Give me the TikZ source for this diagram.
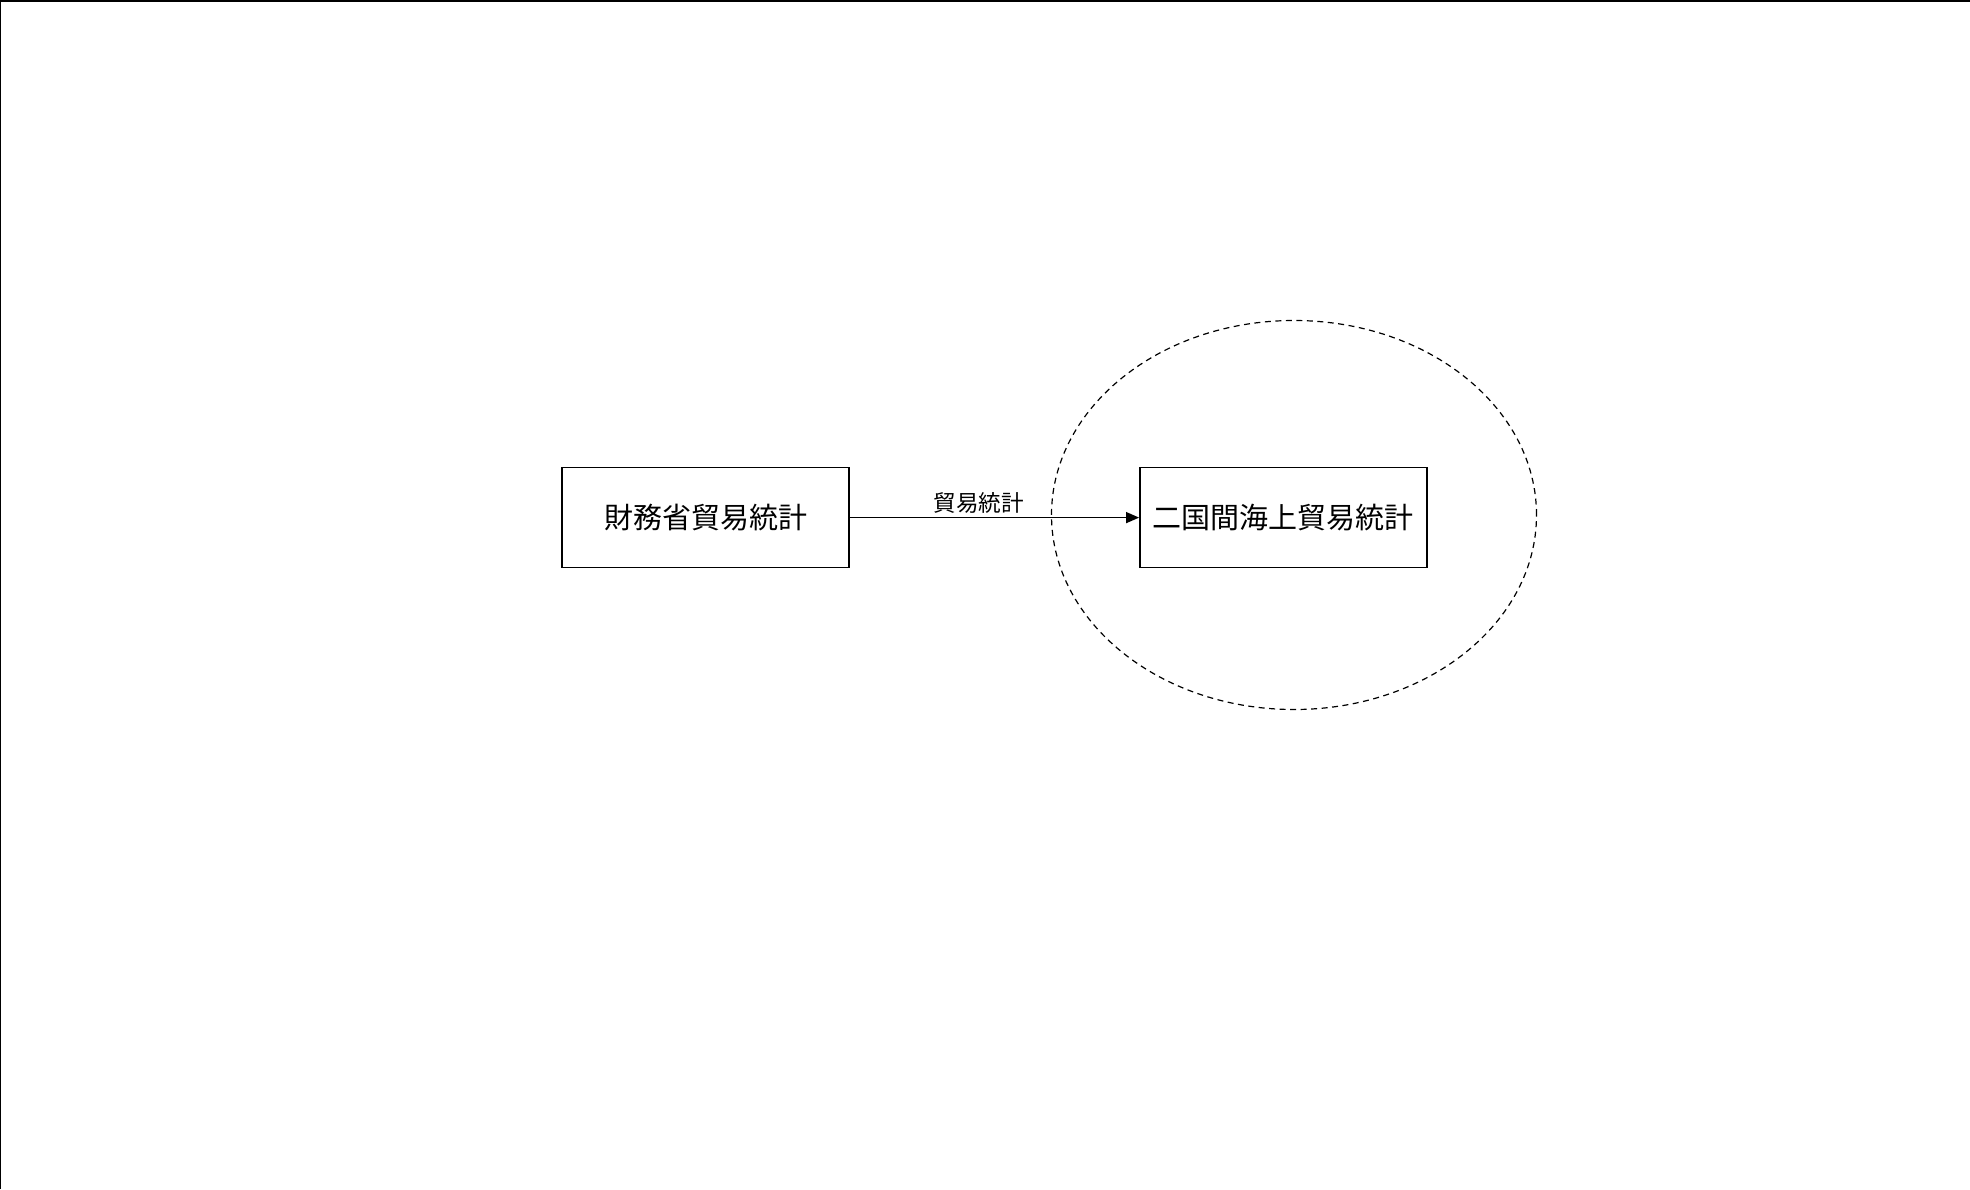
\documentclass[tikz,border=0pt]{standalone}
\usepackage{fontspec}
\setmainfont{Noto Sans CJK JP}
\usetikzlibrary{arrows.meta,shapes.geometric}
\begin{document}
\begin{tikzpicture}[x=1pt,y=-1pt,
  box/.style={draw=black,line width=1.4pt,minimum width=287pt,minimum height=100pt,inner sep=0pt,font=\fontsize{29}{32}\selectfont},
  group/.style={draw=black,dashed,dash pattern=on 6pt off 4.5pt,line width=1.2pt,ellipse,minimum width=485pt,minimum height=389pt,inner sep=0pt},
  conn/.style={line width=1.3pt,-{Triangle[length=13pt,width=11pt]}},
  lbl/.style={font=\fontsize{22.6}{25}\selectfont,inner sep=0pt}]
\useasboundingbox (0,0) rectangle (1970,1189);
\fill[white] (0,0) rectangle (1970,1189);
\draw[line width=2pt] (0,1189) -- (0,1) -- (1970,1);
\node[group] (grp) at (1294,515) {};
\node[box] (src) at (705.5,517.6) {財務省貿易統計};
\node[box] (dst) at (1283.3,517.6) {二国間海上貿易統計};
\draw[conn] (src) -- (dst) node[lbl,pos=0.446,yshift=15pt] (lab) {貿易統計};
\end{tikzpicture}
\end{document}
